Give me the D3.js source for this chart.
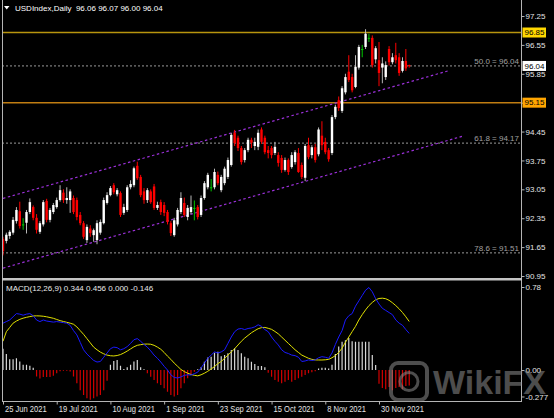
<!DOCTYPE html>
<html>
<head>
<meta charset="utf-8">
<script src="https://cdnjs.cloudflare.com/ajax/libs/d3/7.8.5/d3.min.js"></script>
<style>
  html, body { margin: 0; padding: 0; background: #000; }
  svg { display: block; }
  text { font-family: "Liberation Sans", Arial, sans-serif; }
</style>
</head>
<body>
<div id="main"></div>
<script>
// **** Chart data ****
var titleText = "USDIndex,Daily  96.06 96.07 96.00 96.04";
var macdTitle = "MACD(12,26,9) 0.344 0.456 0.000 -0.146";

var opens = [91.85,91.80,91.92,92.00,92.28,92.52,92.20,92.24,92.50,92.62,92.36,92.02,92.20,92.77,92.31,92.50,92.62,92.79,92.97,92.79,
  92.79,92.84,92.79,92.43,92.23,91.82,92.10,91.94,91.82,92.00,92.23,92.72,92.91,93.15,92.93,92.96,92.48,92.55,93.10,93.15,
  93.62,93.35,93.00,92.79,93.00,93.12,92.60,92.74,92.67,92.50,92.23,91.94,92.20,92.50,92.72,92.38,92.50,92.60,92.62,92.43,
  92.84,93.10,93.10,93.10,93.40,93.03,93.20,93.35,93.64,94.42,94.30,94.05,93.76,94.00,94.25,94.10,94.08,94.50,94.30,94.00,
  94.05,93.93,93.88,93.81,93.52,93.76,93.59,93.71,93.93,93.64,93.33,94.12,93.88,94.07,93.90,94.35,94.20,94.00,93.93,94.80,
  95.21,94.95,95.40,95.90,95.77,95.53,96.00,96.45,96.50,96.72,96.72,96.20,96.18,96.00,95.77,96.45,96.13,96.30,96.25,95.92,
  96.16,96.06];
var highs = [91.90,92.00,92.06,92.38,92.62,92.75,92.35,92.55,92.83,92.66,92.45,92.28,92.79,92.82,92.60,92.72,92.85,93.15,93.05,93.10,
  93.05,92.90,92.85,92.50,92.28,92.20,92.18,92.10,92.30,92.32,92.85,92.98,93.13,93.20,93.08,93.00,92.70,93.15,93.27,93.60,
  93.72,93.40,93.08,93.08,93.05,93.18,92.75,92.80,92.74,92.55,92.28,92.36,92.60,92.98,92.85,92.67,92.90,92.78,92.67,92.90,
  93.25,93.45,93.30,93.55,93.48,93.40,93.60,93.82,94.42,94.49,94.35,94.10,94.05,94.30,94.30,94.30,94.50,94.55,94.35,94.10,
  94.10,94.20,93.95,93.88,93.82,93.80,93.95,94.00,94.05,93.70,94.15,94.30,94.12,94.15,94.55,94.70,94.30,94.05,94.85,95.10,
  95.30,95.55,95.85,96.30,95.85,96.30,96.55,96.55,96.93,96.82,96.78,96.52,96.62,96.25,96.15,96.52,96.35,96.60,96.35,96.25,
  96.45,96.07];
var lows = [91.45,91.74,91.85,91.95,92.22,92.10,92.07,91.98,92.45,92.30,91.98,91.97,92.15,92.25,92.25,92.45,92.58,92.75,92.72,92.70,
  92.48,92.45,92.30,92.18,91.85,91.75,91.90,91.78,91.72,91.95,92.20,92.68,92.88,92.93,92.88,92.38,92.43,92.50,93.05,93.10,
  93.28,92.86,92.70,92.72,92.70,92.55,92.55,92.43,92.40,92.20,91.92,91.90,92.15,92.45,92.38,92.30,92.45,92.30,92.32,92.38,
  92.80,93.05,93.00,93.05,93.15,92.98,93.15,93.30,93.60,94.10,93.98,93.65,93.70,93.95,94.05,94.00,94.00,94.15,93.90,93.80,
  93.80,93.88,93.60,93.45,93.48,93.40,93.55,93.65,93.45,93.30,93.25,93.78,93.80,93.70,93.85,94.00,93.90,93.72,93.88,94.75,
  94.95,94.90,95.35,95.65,95.40,95.50,95.95,96.25,96.45,96.62,96.00,96.10,95.55,95.62,95.70,96.05,96.08,96.10,95.80,95.88,
  95.92,96.00];
var closes = [91.55,91.95,92.02,92.31,92.55,92.16,92.20,92.50,92.74,92.36,92.07,92.23,92.74,92.31,92.55,92.67,92.79,93.03,92.79,92.84,
  93.00,92.50,92.38,92.23,91.90,92.14,91.99,92.06,92.23,92.26,92.79,92.91,93.08,92.98,93.03,92.43,92.62,93.10,93.18,93.56,
  93.32,92.91,92.79,93.03,92.74,92.60,92.67,92.50,92.48,92.26,91.99,92.30,92.55,92.84,92.43,92.60,92.62,92.60,92.38,92.84,
  93.20,93.40,93.10,93.47,93.20,93.35,93.55,93.76,94.37,94.17,94.05,93.71,94.00,94.25,94.18,94.20,94.42,94.20,93.95,93.93,
  93.88,94.08,93.69,93.52,93.76,93.47,93.88,93.95,93.47,93.35,94.10,93.83,94.07,93.76,94.50,94.12,93.95,93.78,94.80,95.05,
  95.02,95.50,95.77,95.70,95.45,96.02,96.50,96.45,96.82,96.72,96.06,96.47,95.87,96.10,96.06,96.13,96.25,96.18,95.87,96.16,
  95.98,96.04];

var macdMain = [0.44,0.455,0.47,0.50,0.53,0.525,0.515,0.525,0.53,0.51,0.47,0.455,0.47,0.46,0.455,0.45,0.455,0.45,0.445,0.44,
  0.42,0.37,0.33,0.26,0.19,0.15,0.12,0.09,0.075,0.08,0.12,0.16,0.20,0.215,0.21,0.19,0.20,0.22,0.25,0.285,
  0.295,0.27,0.24,0.215,0.18,0.14,0.11,0.075,0.035,0.0,-0.045,-0.07,-0.075,-0.065,-0.05,-0.045,-0.047,-0.035,-0.02,0.02,
  0.065,0.11,0.14,0.17,0.16,0.17,0.19,0.25,0.31,0.36,0.385,0.39,0.38,0.39,0.395,0.405,0.425,0.41,0.38,0.36,
  0.31,0.27,0.235,0.19,0.165,0.155,0.14,0.135,0.12,0.08,0.085,0.095,0.09,0.095,0.115,0.125,0.12,0.11,0.16,0.24,
  0.31,0.37,0.47,0.51,0.53,0.60,0.65,0.70,0.75,0.775,0.735,0.67,0.62,0.58,0.56,0.54,0.52,0.47,0.44,0.42,
  0.38,0.344];
var macdSignal = [0.27,0.36,0.40,0.44,0.46,0.476,0.487,0.495,0.502,0.508,0.509,0.508,0.505,0.50,0.493,0.486,0.475,0.464,0.456,0.448,
  0.44,0.43,0.405,0.37,0.335,0.295,0.255,0.215,0.19,0.168,0.152,0.14,0.134,0.132,0.136,0.145,0.16,0.178,0.198,0.218,
  0.232,0.238,0.243,0.244,0.242,0.232,0.215,0.195,0.165,0.13,0.10,0.065,0.035,0.005,-0.015,-0.03,-0.042,-0.05,-0.055,-0.045,
  -0.03,-0.012,0.01,0.032,0.06,0.08,0.11,0.14,0.17,0.20,0.235,0.27,0.30,0.325,0.35,0.37,0.388,0.398,0.40,0.392,
  0.382,0.362,0.34,0.31,0.28,0.25,0.22,0.19,0.165,0.14,0.125,0.11,0.10,0.095,0.094,0.094,0.096,0.10,0.115,0.135,
  0.165,0.205,0.26,0.31,0.36,0.41,0.47,0.52,0.565,0.605,0.635,0.66,0.672,0.675,0.67,0.655,0.632,0.605,0.575,0.54,
  0.50,0.456];
var macdHist = [0.20,0.15,0.10,0.10,0.11,0.08,0.05,0.05,0.04,0.02,-0.06,-0.08,-0.065,-0.065,-0.065,-0.055,-0.03,-0.012,-0.006,-0.006,
  -0.015,-0.06,-0.125,-0.19,-0.235,-0.265,-0.28,-0.265,-0.25,-0.235,-0.19,-0.10,0.05,0.085,0.095,0.04,0.01,0.025,0.05,0.08,
  0.095,0.025,0.006,-0.03,-0.063,-0.094,-0.125,-0.14,-0.172,-0.204,-0.235,-0.25,-0.235,-0.172,-0.125,-0.078,-0.047,-0.016,0.006,0.025,
  0.078,0.118,0.125,0.163,0.172,0.13,0.14,0.157,0.188,0.204,0.188,0.157,0.125,0.11,0.078,0.056,0.038,0.038,0.025,-0.025,
  -0.063,-0.094,-0.11,-0.125,-0.11,-0.094,-0.11,-0.094,-0.078,-0.063,-0.047,-0.031,-0.02,-0.012,0.015,0.02,0.02,0.015,0.05,0.15,
  0.22,0.265,0.28,0.30,0.27,0.266,0.266,0.266,0.266,0.266,0.14,0.047,-0.13,-0.17,-0.18,-0.16,-0.19,-0.17,-0.16,-0.18,
  -0.15,-0.146];

var priceTicks = [97.25, 96.55, 95.85, 95.15, 94.45, 93.75, 93.05, 92.35, 91.65, 90.95];
var macdTicks = [0.78, 0.00, -0.277];
var dateBars = [0, 16, 32, 48, 64, 80, 96, 112];
var dateLabels = ["25 Jun 2021", "19 Jul 2021", "10 Aug 2021", "1 Sep 2021", "23 Sep 2021", "15 Oct 2021", "8 Nov 2021", "30 Nov 2021"];

var levelPrices = [96.85, 95.15];
var fibLevels = ["50.0", "61.8", "78.6"];
var fibPrices = [96.04, 94.17, 91.51];
var lastPrice = 96.04;
var channelUpper = [[0, 92.83], [132.6, 95.92]];
var channelLower = [[0, 91.14], [137, 94.34]];

// **** Sizes and scales ****
var W = 554, H = 418;
var plotL = 2, plotR = 521, mainB = 278, macdT = 281, macdB = 401.5;

var svg = d3.select("#main").append("svg")
    .attr("width", W).attr("height", H)
    .style("background", "#000");

var x = d3.scaleLinear().domain([0, 154]).range([3, 520]);
var y = d3.scaleLinear().domain([90.95, 97.25]).range([276, 16]);
var ym = d3.scaleLinear().domain([0, 0.78]).range([370, 287]);

var defs = svg.append("defs");
defs.append("clipPath").attr("id", "clipMain")
  .append("rect").attr("x", plotL).attr("y", 0).attr("width", plotR - plotL).attr("height", mainB);
defs.append("clipPath").attr("id", "clipMacd")
  .append("rect").attr("x", plotL).attr("y", macdT).attr("width", plotR - plotL).attr("height", macdB - macdT);

var main = svg.append("g").attr("clip-path", "url(#clipMain)");
var macd = svg.append("g").attr("clip-path", "url(#clipMacd)");

// **** Level lines ****
main.selectAll(".fib").data(fibPrices).enter().append("line")
    .attr("x1", plotL).attr("x2", plotR)
    .attr("y1", function(d){ return y(d); }).attr("y2", function(d){ return y(d); })
    .style("stroke", "#9a9a9a").style("stroke-width", 1).style("stroke-dasharray", "2,2");

main.selectAll(".fibLabel").data(fibPrices).enter().append("text")
    .attr("x", 519).attr("y", function(d){ return y(d) - 2; })
    .attr("text-anchor", "end")
    .style("font-size", "8px").style("fill", "#a0a0a0")
    .text(function(d, i){ return fibLevels[i] + " = " + d.toFixed(2); });

main.append("line")
    .attr("x1", plotL).attr("x2", plotR)
    .attr("y1", y(levelPrices[0])).attr("y2", y(levelPrices[0]))
    .style("stroke", "#b8950e").style("stroke-width", 1.5);
main.append("line")
    .attr("x1", plotL).attr("x2", plotR)
    .attr("y1", y(levelPrices[1])).attr("y2", y(levelPrices[1]))
    .style("stroke", "#c07d12").style("stroke-width", 1.5);

// **** Channel ****
var chLine = d3.line().x(function(d){ return x(d[0]); }).y(function(d){ return y(d[1]); });
[channelUpper, channelLower].forEach(function(c){
  main.append("path").attr("d", chLine(c))
    .style("fill", "none").style("stroke", "#9b30d9").style("stroke-width", 1.2)
    .style("stroke-dasharray", "2.5,2.5");
});

// **** Candles ****
var idx = d3.range(closes.length);
var candles = main.append("g").selectAll("g").data(idx).enter().append("g");

function candleColor(i) {
  if (opens[i] === closes[i]) return "#00c800";
  return closes[i] > opens[i] ? "#ffffff" : "#ff0000";
}

candles.append("line")
    .attr("x1", function(i){ return x(i); }).attr("x2", function(i){ return x(i); })
    .attr("y1", function(i){ return y(highs[i]); }).attr("y2", function(i){ return y(lows[i]); })
    .style("stroke", function(i){
      if (opens[i] === closes[i]) return "#00c800";
      return closes[i] > opens[i] ? "#b8b8b8" : "#ff0000"; })
    .style("stroke-width", 1);

candles.append("rect")
    .attr("x", function(i){ return x(i) - 1.2; })
    .attr("width", 2.4)
    .attr("y", function(i){ return y(Math.max(opens[i], closes[i])); })
    .attr("height", function(i){ return Math.max(1, Math.abs(y(opens[i]) - y(closes[i]))); })
    .style("fill", candleColor);

// **** MACD ****
macd.selectAll(".hist").data(macdHist).enter().append("line")
    .attr("x1", function(d, i){ return x(i); }).attr("x2", function(d, i){ return x(i); })
    .attr("y1", ym(0)).attr("y2", function(d){ return ym(d); })
    .style("stroke", function(d){ return d >= 0 ? "#d8d8d8" : "#d40000"; })
    .style("stroke-width", 1.2);

var mLine = d3.line().x(function(d, i){ return x(i); }).y(function(d){ return ym(d); });
macd.append("path").attr("d", mLine(macdSignal))
    .style("fill", "none").style("stroke", "#e0e000").style("stroke-width", 1);
macd.append("path").attr("d", mLine(macdMain))
    .style("fill", "none").style("stroke", "#1a1aff").style("stroke-width", 1);

// **** Frame ****
var frameColor = "#b4b4b4";
svg.append("line").attr("x1", plotL + 0.5).attr("x2", plotL + 0.5).attr("y1", 0).attr("y2", macdB)
    .style("stroke", frameColor);
svg.append("line").attr("x1", plotR + 0.5).attr("x2", plotR + 0.5).attr("y1", 0).attr("y2", macdB)
    .style("stroke", frameColor);
svg.append("rect").attr("x", plotL).attr("y", mainB).attr("width", plotR - plotL + 1).attr("height", 2.5)
    .style("fill", "#c4c4c4");
svg.append("line").attr("x1", plotL).attr("x2", plotR + 1).attr("y1", macdB).attr("y2", macdB)
    .style("stroke", frameColor);

// **** Axes ****
var priceAxis = svg.append("g").attr("transform", "translate(" + (plotR + 0.5) + ",0)")
    .call(d3.axisRight(y).tickValues(priceTicks).tickSize(3).tickPadding(1)
      .tickFormat(function(d){ return d.toFixed(2); }));
var macdAxis = svg.append("g").attr("transform", "translate(" + (plotR + 0.5) + ",0)")
    .call(d3.axisRight(ym).tickValues(macdTicks).tickSize(3).tickPadding(1)
      .tickFormat(function(d){ return d === -0.277 ? "-0.277" : d.toFixed(2); }));
macdAxis.selectAll(".tick").filter(function(d){ return d < 0; })
    .attr("transform", "translate(0," + (ym(-0.277) - 2.5) + ")");

var dateAxis = svg.append("g").attr("transform", "translate(0," + macdB + ")")
    .call(d3.axisBottom(x).tickValues(dateBars).tickSize(3).tickPadding(1)
      .tickFormat(function(d, i){ return dateLabels[i]; }));
dateAxis.selectAll("text").attr("text-anchor", "start").attr("x", 1.5)
    .style("font-size", "9px")
    .each(function(){
      var len = this.getComputedTextLength();
      d3.select(this).attr("textLength", len * 0.84).attr("lengthAdjust", "spacingAndGlyphs");
    });

[priceAxis, macdAxis, dateAxis].forEach(function(a){
  a.select(".domain").remove();
  a.selectAll("line").style("stroke", frameColor);
  a.selectAll("text").style("fill", "#e4e4e4").style("font-family", "'Liberation Sans', Arial, sans-serif");
});
priceAxis.selectAll("text").style("font-size", "8px");
macdAxis.selectAll("text").style("font-size", "8px");

// **** Price tags on the axis ****
var tags = [
  {v: levelPrices[0], fill: "#ffd700"},
  {v: lastPrice, fill: "#ffffff"},
  {v: levelPrices[1], fill: "#ffa500"}
];
var tagG = svg.selectAll(".tag").data(tags).enter().append("g")
    .attr("transform", function(d){ return "translate(" + (plotR + 1.5) + "," + y(d.v) + ")"; });
tagG.append("rect").attr("x", 0).attr("y", -5).attr("width", 23.5).attr("height", 10)
    .style("fill", function(d){ return d.fill; });
tagG.append("text").attr("x", 2).attr("y", 0).attr("dy", "0.35em")
    .style("font-size", "8px").style("fill", "#000")
    .text(function(d){ return d.v.toFixed(2); });

// **** Titles ****
svg.append("path").attr("d", "M4,6 L9.5,6 L6.75,9.5 Z").style("fill", "#ffffff");
svg.append("text").attr("x", 15).attr("y", 10.5)
    .style("font-size", "8px").style("fill", "#ffffff")
    .attr("xml:space", "preserve")
    .text(titleText);
svg.append("text").attr("x", 6).attr("y", 291)
    .style("font-size", "8px").style("fill", "#e8e8e8")
    .text(macdTitle);

// **** Watermark ****
var wm = svg.append("g").style("opacity", 0.55);
wm.append("rect").attr("x", 391).attr("y", 363).attr("width", 36).attr("height", 37).attr("rx", 7)
    .style("fill", "none").style("stroke", "#8c8c8c").style("stroke-width", 4);
wm.append("circle").attr("cx", 409).attr("cy", 381.5).attr("r", 9)
    .style("fill", "none").style("stroke", "#8c8c8c").style("stroke-width", 3);
wm.append("text").attr("x", 433).attr("y", 394)
    .style("font-size", "34px").style("font-weight", "bold").style("fill", "#8c8c8c")
    .text("WikiFX");
</script>
</body>
</html>
